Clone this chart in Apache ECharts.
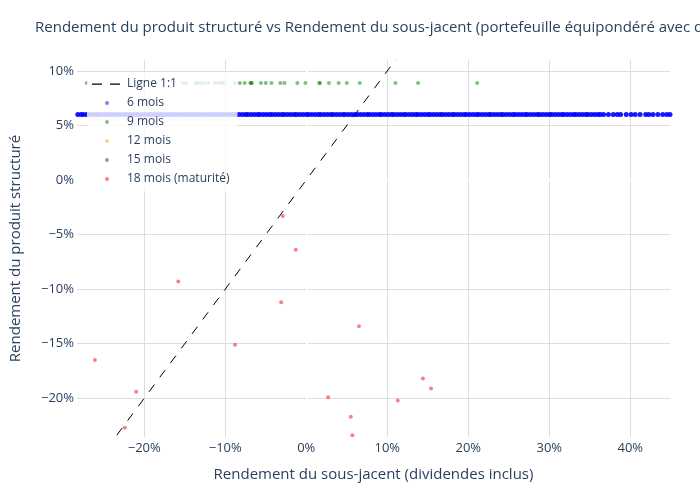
<!DOCTYPE html>
<html>
<head>
<meta charset="utf-8">
<script src="https://cdn.jsdelivr.net/npm/echarts@6/dist/echarts.min.js"></script>
<style>
  html, body { margin: 0; padding: 0; background: #fff; }
  #chart { width: 700px; height: 500px; }
</style>
</head>
<body>
<div id="chart"></div>
<script>
"use strict";

// 坐标轴范围 (%)
let x_min = -28.3;
let x_max = 44.9;
let y_min = -23.55;
let y_max = 11.0;

// 6 mois : rendement fixe, rendement du sous-jacent
let y_6mois = 6.0;
let x_6mois = [
  -28.2, -27.8, -27.5, -27.1, -26.7, -26.3, -25.9, -25.6, -25.2, -24.8, -24.4, -24.1,
  -23.7, -23.3, -22.9, -22.5, -22.2, -21.8, -21.4, -21.0, -20.7, -20.3, -19.9, -19.5,
  -19.2, -18.8, -18.4, -18.0, -17.7, -17.3, -16.9, -16.5, -16.2, -15.8, -15.4, -15.0,
  -14.7, -14.3, -13.9, -13.5, -13.2, -12.8, -12.4, -12.0, -11.7, -11.3, -10.9, -10.5,
  -10.2, -9.8, -9.4, -9.0, -8.7, -8.3, -7.9, -7.5, -7.2, -6.8, -6.4, -6.0, -5.7, -5.3,
  -4.9, -4.5, -4.2, -3.8, -3.4, -3.0, -2.7, -2.3, -1.9, -1.5, -1.2, -0.8, -0.4, 0.0,
  0.3, 0.7, 1.1, 1.5, 1.8, 2.2, 2.6, 3.0, 3.3, 3.7, 4.1, 4.5, 4.8, 5.2, 5.6, 6.0, 6.3,
  6.7, 7.1, 7.5, 7.8, 8.2, 8.6, 9.0, 9.3, 9.7, 10.1, 10.5, 10.8, 11.2, 11.6, 12.0, 12.3,
  12.7, 13.1, 13.5, 13.8, 14.2, 14.6, 15.0, 15.3, 15.7, 16.1, 16.5, 16.8, 17.2, 17.6,
  18.0, 18.3, 18.7, 19.1, 19.5, 19.8, 20.2, 20.6, 21.0, 21.3, 21.7, 22.1, 22.5, 22.8,
  23.2, 23.6, 24.0, 24.3, 24.7, 25.1, 25.5, 25.8, 26.2, 26.6, 27.0, 27.3, 27.7, 28.1,
  28.5, 28.8, 29.2, 29.6, 30.0, 30.3, 30.7, 31.1, 31.5, 31.8, 32.2, 32.6, 33.0, 33.3,
  33.7, 34.1, 34.5, 34.8, 35.2, 35.6, 36.0, 36.3, 36.7, 37.3, 37.9, 38.4, 38.8, 39.5,
  40.1, 40.6, 41.2, 41.9, 42.3, 42.8, 43.4, 44.0, 44.5, 44.9
];

// 9 mois
let y_9mois = 8.9;
let x_9mois = [
  -27.1, -15.2, -14.8, -13.7, -13.4, -13.0, -12.6, -12.1, -11.3, -10.9, -10.5, -10.2,
  -8.8, -8.2, -7.6, -6.9, -6.8, -6.7, -5.6, -5.0, -4.3, -3.2, -2.7, -1.1, -0.1,
  1.6, 1.7, 2.8, 4.0, 5.0, 6.6, 11.0, 13.8, 21.1
];

// 12 mois / 15 mois : rien de visible
let pts_12mois = [];
let pts_15mois = [];

// 18 mois (maturité)
let x_18mois = [-26.1, -22.4, -21.0, -15.8, -8.8, -3.1, -2.9, -1.3, 2.7, 5.5, 5.7, 6.5, 11.3, 14.4, 15.4];
let y_18mois = [-16.5, -22.7, -19.4, -9.3, -15.1, -11.2, -3.3, -6.4, -19.9, -21.7, -23.4, -13.4, -20.2, -18.2, -19.1];

// Ligne 1:1
let ligne = [-30, 50];

let txt = '#2a3f5f';
// icônes de légende (boîte 30x14)
let dotIcon = 'path://M0,0L0,0M30,14L30,14M13,7a2,2 0 1,0 4,0a2,2 0 1,0 -4,0Z';
let dashIcon = 'path://M0,0L0,0M30,14L30,14M0,6.5h10v1.2h-10zM18,6.5h10v1.2h-10z';

function pct(v) {
  return (v < 0 ? '\u2212' + Math.abs(v) : v) + '%';
}

let myChart = echarts.init(document.getElementById('chart'));

let option = {
  animation: false,
  textStyle: { fontFamily: '"Open Sans", sans-serif' },
  title: {
    text: 'Rendement du produit structuré vs Rendement du sous-jacent (portefeuille équipondéré avec dividendes)',
    left: 30,
    top: 15,
    textStyle: { color: txt, fontSize: 15, fontWeight: 'normal' },
  },
  grid: { left: 75, right: 30, top: 60, bottom: 63 },
  legend: { // 图例
    orient: 'vertical',
    left: 87,
    top: 72,
    padding: [5, 8, 5, 5],
    itemWidth: 30,
    itemHeight: 14,
    itemGap: 5,
    backgroundColor: 'rgba(255,255,255,0.8)',
    textStyle: { color: txt, fontSize: 12 },
    data: [
      { name: 'Ligne 1:1', icon: dashIcon, itemStyle: { color: '#000' } },
      { name: '6 mois', icon: dotIcon, itemStyle: { color: 'blue', opacity: 0.5 } },
      { name: '9 mois', icon: dotIcon, itemStyle: { color: 'green', opacity: 0.5 } },
      { name: '12 mois', icon: dotIcon, itemStyle: { color: 'orange', opacity: 0.5 } },
      { name: '15 mois', icon: dotIcon, itemStyle: { color: 'purple', opacity: 0.5 } },
      { name: '18 mois (maturité)', icon: dotIcon, itemStyle: { color: 'red', opacity: 0.5 } },
    ],
  },
  xAxis: {
    type: 'value',
    min: x_min,
    max: x_max,
    splitNumber: 7,
    name: 'Rendement du sous-jacent (dividendes inclus)',
    nameLocation: 'middle',
    nameGap: 30,
    nameTextStyle: { color: txt, fontSize: 15 },
    axisLine: { show: false },
    axisTick: { show: false },
    axisLabel: { color: txt, fontSize: 13, margin: 5, showMinLabel: false, showMaxLabel: false, formatter: pct },
    splitLine: { show: true, showMinLine: false, showMaxLine: false, lineStyle: { color: '#dddddd', width: 1 } },
  },
  yAxis: {
    type: 'value',
    min: y_min,
    max: y_max,
    splitNumber: 7,
    name: 'Rendement du produit structuré',
    nameLocation: 'middle',
    nameGap: 54,
    nameTextStyle: { color: txt, fontSize: 15 },
    axisLine: { show: false },
    axisTick: { show: false },
    axisLabel: { color: txt, fontSize: 13, margin: 3, showMinLabel: false, showMaxLabel: false, formatter: pct },
    splitLine: { show: true, showMinLine: false, showMaxLine: false, lineStyle: { color: '#dddddd', width: 1 } },
  },
  series: [
    {
      name: 'Ligne 1:1',
      type: 'line',
      z: 1.5,
      silent: true,
      symbol: 'none',
      data: ligne.map(function (v) { return [v, v]; }),
      lineStyle: { color: '#000', width: 1, type: [9, 9] },
      itemStyle: { color: '#000' },
      markLine: { // lignes zéro
        z: 1,
        silent: true,
        symbol: 'none',
        label: { show: false },
        lineStyle: { color: '#ffffff', width: 2, type: 'solid' },
        data: [{ xAxis: 0 }, { yAxis: 0 }],
      },
    },
    {
      name: '6 mois',
      type: 'scatter',
      z: 2,
      symbolSize: 5,
      data: x_6mois.map(function (x) { return [x, y_6mois]; }),
      itemStyle: { color: 'blue', opacity: 0.9 },
    },
    {
      name: '9 mois',
      type: 'scatter',
      z: 2,
      symbolSize: 4,
      data: x_9mois.map(function (x) { return [x, y_9mois]; }),
      itemStyle: { color: 'green', opacity: 0.5 },
    },
    {
      name: '12 mois',
      type: 'scatter',
      z: 2,
      symbolSize: 4,
      data: pts_12mois,
      itemStyle: { color: 'orange', opacity: 0.5 },
    },
    {
      name: '15 mois',
      type: 'scatter',
      z: 2,
      symbolSize: 4,
      data: pts_15mois,
      itemStyle: { color: 'purple', opacity: 0.5 },
    },
    {
      name: '18 mois (maturité)',
      type: 'scatter',
      z: 2,
      symbolSize: 4,
      data: x_18mois.map(function (x, i) { return [x, y_18mois[i]]; }),
      itemStyle: { color: 'red', opacity: 0.5 },
    },
  ],
};

myChart.setOption(option);
</script>
</body>
</html>
